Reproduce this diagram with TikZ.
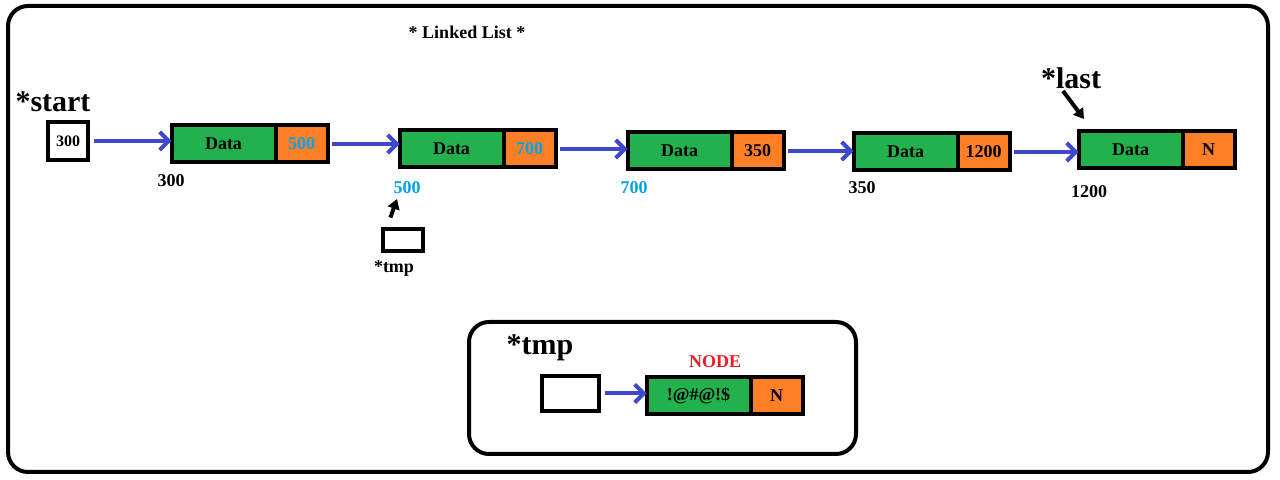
\documentclass[tikz,border=0pt]{standalone}
\usepackage{fontspec}
\setmainfont{Liberation Serif}
\usetikzlibrary{positioning, arrows.meta}
\definecolor{cellgreen}{RGB}{34,177,76}
\definecolor{cellorange}{RGB}{255,127,39}
\definecolor{linkblue}{RGB}{63,72,204}
\definecolor{addrcyan}{RGB}{0,162,232}
\definecolor{nodered}{RGB}{237,28,36}

\tikzset{
    frame/.style={draw=black, line width=2pt, rounded corners=10pt},
    datacell/.style={draw=black, line width=2pt, fill=cellgreen, outer sep=0pt,
        inner sep=0pt, minimum width=52pt, minimum height=18.5pt, font=\bfseries\small},
    nextcell/.style={draw=black, line width=2pt, fill=cellorange, outer sep=0pt,
        inner sep=0pt, minimum width=26pt, minimum height=18.5pt, font=\bfseries\small},
    ptrbox/.style={draw=black, line width=2pt, fill=white, inner sep=0pt, font=\bfseries\footnotesize},
    link/.style={draw=linkblue, line width=2pt, shorten <=2pt, -{Straight Barb[length=4.5pt, width=9pt]}},
    pointer/.style={draw=black, line width=2pt, -{Triangle[length=5pt, width=6pt]}},
    addr/.style={font=\bfseries\small},
    bigname/.style={font=\bfseries\fontsize{15}{18}\selectfont, inner sep=1pt},
}

\begin{document}
\begin{tikzpicture}[x=0.5pt, y=-0.5pt]
    \useasboundingbox (0,0) rectangle (1280,480);

    % Outer frame
    \draw[frame] (8,6) rectangle (1268,472);
    \node[font=\bfseries\small] (title) at (467,32) {* Linked List *};

    % Start pointer
    \node[bigname] (startlbl) at (53,102) {*start};
    \node[ptrbox, minimum width=20pt, minimum height=19pt] (start) at (68,141) {300};

    % List nodes
    \node[datacell] (d1) at (223.5,144) {Data};
    \node[nextcell, right=0pt of d1, text=addrcyan] (n1) {500};
    \node[datacell] (d2) at (451.5,149) {Data};
    \node[nextcell, right=0pt of d2, text=addrcyan] (n2) {700};
    \node[datacell] (d3) at (679.5,151) {Data};
    \node[nextcell, right=0pt of d3] (n3) {350};
    \node[datacell] (d4) at (905.5,152) {Data};
    \node[nextcell, right=0pt of d4] (n4) {1200};
    \node[datacell] (d5) at (1130.5,149.5) {Data};
    \node[nextcell, right=0pt of d5] (n5) {N};

    % Addresses
    \node[addr] (a1) at (171,181) {300};
    \node[addr, text=addrcyan] (a2) at (407,188) {500};
    \node[addr, text=addrcyan] (a3) at (634,188) {700};
    \node[addr] (a4) at (862,188) {350};
    \node[addr] (a5) at (1089,192) {1200};

    % Links
    \draw[link] (start.east) -- (start.east -| d1.west);
    \draw[link] (n1.east) -- (n1.east -| d2.west);
    \draw[link] (n2.east) -- (n2.east -| d3.west);
    \draw[link] (n3.east) -- (n3.east -| d4.west);
    \draw[link] (n4.east) -- (n4.east -| d5.west);

    % Last pointer
    \node[bigname] (lastlbl) at (1071,78) {*last};
    \coordinate (lasttip) at (1084,119);
    \draw[pointer] ([xshift=-4pt]lastlbl.south) -- (lasttip);

    % Tmp pointer
    \node[ptrbox, minimum width=20pt, minimum height=11pt] (tmpbox) at (403,240) {};
    \node[font=\bfseries\small] (tmplbl) at (394,268) {*tmp};
    \coordinate (tmptip) at (397,199);
    \draw[pointer, shorten <=5pt] ([xshift=-8pt]tmpbox.north) -- (tmptip);

    % New node box
    \draw[frame] (469,322) rectangle (856,454);
    \node[bigname] (tmpname) at (540,348) {*tmp};
    \node[ptrbox, minimum width=28.5pt, minimum height=17.5pt] (tmpptr) at (570.5,393.5) {};
    \node[font=\bfseries\small, text=nodered] (nodelbl) at (715,362) {NODE};
    \node[datacell] (nd) at (698.5,396) {!@\#@!\$};
    \node[nextcell, right=0pt of nd] (nn) {N};
    \draw[link] (tmpptr.east) -- (tmpptr.east -| nd.west);

\end{tikzpicture}
\end{document}
